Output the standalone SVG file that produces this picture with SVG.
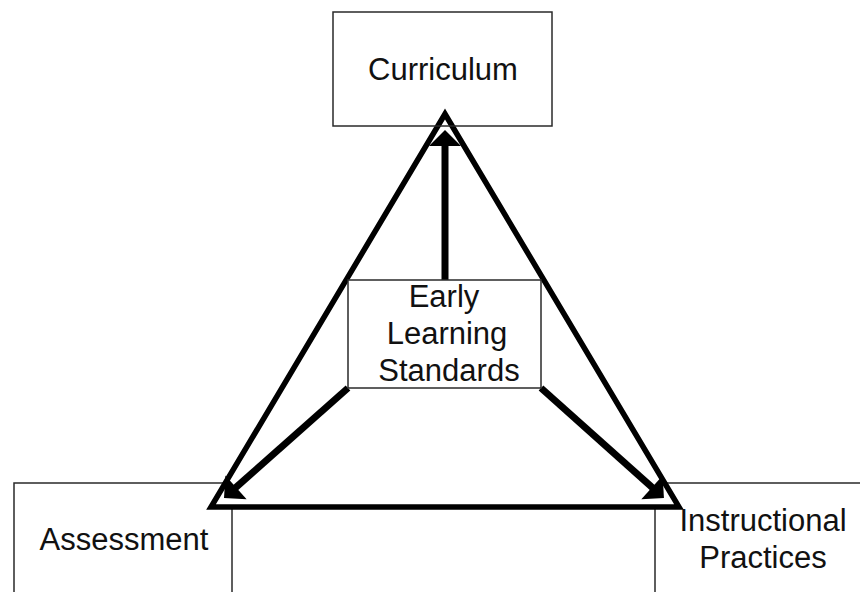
<svg xmlns="http://www.w3.org/2000/svg" width="860" height="592" viewBox="0 0 860 592">
  <style>
    .box { fill: #ffffff; stroke: #2a2a2a; stroke-width: 1.5; }
    .frame { fill: none; stroke: #2a2a2a; stroke-width: 1.5; }
    .label { font-family: "Liberation Sans", Arial, sans-serif; font-size: 31px; fill: #111111; text-anchor: middle; }
    .tri { fill: #ffffff; stroke: #000000; stroke-width: 5.5; stroke-linejoin: miter; }
    .arrow { fill: none; stroke: #000000; stroke-width: 7; marker-end: url(#head); }
  </style>
  <defs>
    <marker id="head" markerUnits="userSpaceOnUse" markerWidth="16" markerHeight="32" refX="2" refY="16" orient="auto" overflow="visible">
      <path d="M0,0 L16,16 L0,32 Z" fill="#000000"/>
    </marker>
  </defs>

  <rect width="860" height="592" fill="#ffffff"/>

  <!-- corner boxes that sit behind the triangle -->
  <g id="assessment">
    <rect class="box" x="14" y="483" width="218" height="130"/>
    <text class="label" x="124" y="550">Assessment</text>
  </g>
  <g id="instructional">
    <rect class="box" x="655" y="483" width="230" height="130"/>
  </g>

  <!-- the triangle joining the three corners -->
  <g id="triangle">
    <polygon class="tri" points="445,114 211,507 679,507"/>
  </g>

  <g id="instructional-label">
    <text class="label" x="763" y="531">Instructional</text>
    <text class="label" x="763" y="568">Practices</text>
  </g>

  <g id="curriculum">
    <rect class="frame" x="333" y="12" width="219" height="114"/>
    <text class="label" x="443" y="80">Curriculum</text>
  </g>

  <!-- connectors from the centre box -->
  <g id="connectors">
    <line class="arrow" x1="445" y1="280" x2="445" y2="144"/>
    <line class="arrow" x1="348" y1="388" x2="234.5" y2="488.7"/>
    <line class="arrow" x1="541" y1="388" x2="653.5" y2="488.7"/>
  </g>

  <g id="early-learning-standards">
    <rect class="box" x="348" y="280" width="193" height="108"/>
    <text class="label" x="444" y="307">Early</text>
    <text class="label" x="447" y="344">Learning</text>
    <text class="label" x="449" y="381">Standards</text>
  </g>
</svg>
